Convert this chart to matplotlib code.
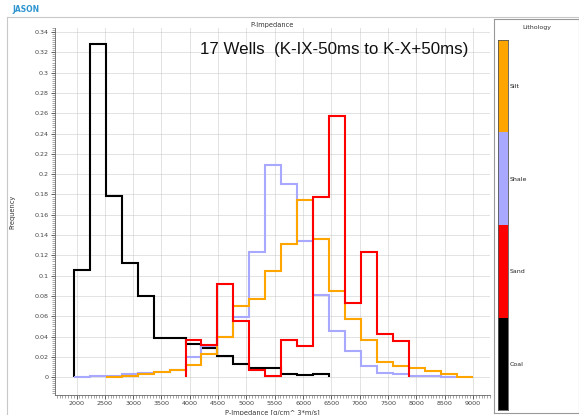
import matplotlib
matplotlib.use("Agg")
import matplotlib.pyplot as plt
from matplotlib.lines import Line2D
from matplotlib.ticker import MultipleLocator

# ---------------- data ----------------
bin_edges = [1950, 2232, 2514, 2796, 3078, 3360, 3642, 3924, 4206, 4488, 4770,
             5052, 5334, 5616, 5898, 6180, 6462, 6744, 7026, 7308, 7590, 7872,
             8154, 8436, 8718, 9000]

coal_start = 0
coal = [0.106, 0.328, 0.179, 0.113, 0.080, 0.039, 0.039, 0.033, 0.029, 0.021,
        0.013, 0.009, 0.0095, 0.0033, 0.0023, 0.003]

sand_start = 7
sand = [0.037, 0.032, 0.092, 0.0555, 0.007, 0.001, 0.037, 0.031, 0.178, 0.257,
        0.0735, 0.123, 0.0427, 0.036]

shale_start = 0
shale = [0.0006, 0.0008, 0.001, 0.003, 0.0045, 0.005, 0.007, 0.020, 0.031, 0.040,
         0.0597, 0.123, 0.209, 0.190, 0.134, 0.081, 0.0456, 0.026, 0.0115, 0.0045,
         0.003, 0.0013, 0.001, 0.0005]

silt_start = 2
silt = [0.0007, 0.001, 0.003, 0.005, 0.0075, 0.012, 0.023, 0.040, 0.070, 0.077,
        0.105, 0.131, 0.175, 0.136, 0.0853, 0.0574, 0.0367, 0.0154, 0.0115, 0.009,
        0.0062, 0.0033, 0.0006]

lith_names = ["Coal", "Sand", "Shale", "Silt"]
lith_colors = ["#000000", "#ff0000", "#a8a8ff", "#ffa500"]

title_text = "17 Wells  (K-IX-50ms to K-X+50ms)"

# ---------------- figure ----------------
W, H = 579, 415
fig = plt.figure(figsize=(W / 100, H / 100), dpi=100)
fig.patch.set_facecolor("white")


def fx(px):
    return px / W


def fy(py):
    return 1 - py / H


ax = fig.add_axes([fx(55), fy(395), fx(490) - fx(55), fy(28) - fy(395)])

series = [
    (coal, coal_start, lith_colors[0]),
    (shale, shale_start, lith_colors[2]),
    (silt, silt_start, lith_colors[3]),
    (sand, sand_start, lith_colors[1]),
]
for vals, start, col in series:
    edges = bin_edges[start:start + len(vals) + 1]
    ax.stairs(vals, edges, baseline=0, fill=False, color=col, lw=1.5, zorder=3)

ax.set_xlim(1620, 9300)
ax.set_ylim(-0.0175, 0.344)

ax.xaxis.set_minor_locator(MultipleLocator(50))
ax.yaxis.set_minor_locator(MultipleLocator(0.002))

ax.set_xticks([2000 + 500 * i for i in range(15)])
ax.set_xticklabels([str(2000 + 500 * i) for i in range(15)])
yt = [0.02 * i for i in range(18)]
ax.set_yticks(yt)
ax.set_yticklabels(["0" if v == 0 else ("%.2f" % v).rstrip("0").rstrip(".") for v in yt])

ax.tick_params(axis="both", which="major", labelsize=4.6, length=3, width=0.6,
               colors="#444444", pad=1.5)
ax.tick_params(axis="both", which="minor", length=2, width=0.4, colors="#666666")

ax.grid(True, which="major", color="#bdbdbd", linestyle=(0, (1.2, 1.2)), linewidth=0.6)
for s in ["top", "right"]:
    ax.spines[s].set_visible(False)
for s in ["left", "bottom"]:
    ax.spines[s].set_color("#666666")
    ax.spines[s].set_linewidth(0.6)

ax.set_xlabel("P-Impedance [g/cm^ 3*m/s]", fontsize=4.8, color="#333333", labelpad=2)
ax.set_ylabel("Frequency", fontsize=4.8, color="#333333", labelpad=14)
ax.set_title("P-Impedance", fontsize=4.8, color="#333333", pad=1)

ax.text((200 - 55) / 435, 0.942, title_text, transform=ax.transAxes, fontsize=12.2,
        family="Liberation Sans", color="#111111", ha="left", va="center")

# ---------------- lithology panel ----------------
panel = fig.add_axes([fx(494), fy(413), fx(579) - fx(494), fy(19) - fy(413)])
panel.set_xticks([])
panel.set_yticks([])
for s in panel.spines.values():
    s.set_color("#999999")
    s.set_linewidth(0.8)
panel.text(0.5, 0.985, "Lithology", transform=panel.transAxes, fontsize=4.5,
           color="#333333", ha="center", va="top")

bar_ax = fig.add_axes([fx(498), fy(410), fx(508) - fx(498), fy(40) - fy(410)])
for i, (name, col) in enumerate(zip(lith_names, lith_colors)):
    bar_ax.bar(0, 1, bottom=i, width=1, color=col, edgecolor="none")
bar_ax.set_xlim(-0.5, 0.5)
bar_ax.set_ylim(0, len(lith_names))
bar_ax.set_xticks([])
bar_ax.yaxis.tick_right()
bar_ax.set_yticks([i + 0.5 for i in range(len(lith_names))])
bar_ax.set_yticklabels(lith_names)
bar_ax.tick_params(axis="y", length=0, labelsize=4.5, pad=1.5, colors="#222222")
for s in bar_ax.spines.values():
    s.set_color("#555555")
    s.set_linewidth(0.6)

# ---------------- window decoration ----------------
fig.add_artist(Line2D([fx(7), fx(579)], [fy(17), fy(17)], color="#c8c8c8", lw=0.8))
fig.add_artist(Line2D([fx(7), fx(7)], [fy(17), fy(415)], color="#c8c8c8", lw=0.8))
fig.text(fx(12), fy(10), "JASON", fontsize=5.5, fontweight="bold", color="#2f95d0",
         ha="left", va="center")

fig.savefig("out.png", dpi=100)
